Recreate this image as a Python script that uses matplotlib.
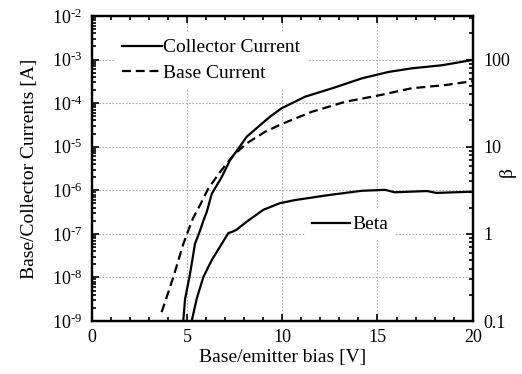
import matplotlib
matplotlib.use('Agg')
import matplotlib.pyplot as plt
from matplotlib.ticker import LogLocator, NullFormatter, FixedLocator, MultipleLocator

plt.rcParams['font.family'] = ['Liberation Serif', 'DejaVu Serif']
plt.rcParams['mathtext.fontset'] = 'custom'
plt.rcParams['mathtext.rm'] = 'Liberation Serif'
plt.rcParams['mathtext.it'] = 'Liberation Serif:italic'
plt.rcParams['font.size'] = 14

# collector current vs base/emitter bias
v_ic = [4.80, 4.90, 5.16, 5.42, 5.69, 5.86, 6.04, 6.30, 6.82, 7.26, 7.70,
        8.14, 8.83, 9.36, 9.96, 11.19, 12.77, 14.17, 15.58, 16.8, 18.38, 20.0]
ic = [9.3e-10, 3.2e-9, 1.2e-8, 5.9e-8, 1.2e-7, 2.0e-7, 3.2e-7, 8.3e-7, 2.0e-6,
      4.9e-6, 9.1e-6, 1.7e-5, 3.1e-5, 4.9e-5, 7.6e-5, 1.4e-4, 2.3e-4, 3.7e-4,
      5.2e-4, 6.3e-4, 7.4e-4, 9.8e-4]

# base current
v_ib = [3.67, 4.28, 4.81, 5.30, 5.70, 6.12, 6.73, 7.43, 8.14, 9.10, 9.96,
        11.54, 13.29, 15.05, 16.8, 18.56, 20.0]
ib = [1.6e-9, 1.0e-8, 5.9e-8, 2.2e-7, 4.7e-7, 1.1e-6, 2.6e-6, 6.3e-6, 1.2e-5,
      2.2e-5, 3.3e-5, 6.3e-5, 1.07e-4, 1.5e-4, 2.2e-4, 2.6e-4, 3.2e-4]

# current gain
v_beta = [5.25, 5.51, 5.86, 6.30, 6.73, 7.17, 7.40, 7.61, 8.14, 9.01, 9.88,
          10.66, 12.4, 14.17, 15.4, 15.9, 17.6, 18.1, 20.0]
beta = [0.10, 0.18, 0.32, 0.50, 0.71, 1.02, 1.06, 1.12, 1.38, 1.89, 2.25,
        2.44, 2.78, 3.12, 3.2, 3.0, 3.1, 2.95, 3.05]

left_ticks = [1e-9, 1e-8, 1e-7, 1e-6, 1e-5, 1e-4, 1e-3, 1e-2]
left_labels = [r'$\mathregular{10^{\text{-}%d}}$' % n for n in range(9, 1, -1)]
right_ticks = [0.1, 1, 10, 100]
right_labels = ['0.1', '1', '10', '100']

fig = plt.figure(figsize=(5.22, 3.74), dpi=100)
ax = fig.add_axes([0.1757, 0.1417, 0.7299, 0.8155])
ax2 = ax.twinx()

ax.plot(v_ic, ic, color='black', lw=1.6, label='Collector Current')
ax.plot(v_ib, ib, color='black', lw=1.6, dashes=(4, 2.2), label='Base Current')
ax2.plot(v_beta, beta, color='black', lw=1.6, label='Beta')

ax.set_yscale('log')
ax.set_ylim(1e-9, 1e-2)
ax.set_xlim(0, 20)
ax2.set_yscale('log')
ax2.set_ylim(0.1, 10 ** 2.5)

ax.xaxis.set_major_locator(MultipleLocator(5))
ax.xaxis.set_minor_locator(MultipleLocator(1))
ax.yaxis.set_major_locator(FixedLocator(left_ticks))
ax.set_yticklabels(left_labels)
ax.yaxis.set_minor_locator(LogLocator(base=10, subs=range(2, 10), numticks=20))
ax.yaxis.set_minor_formatter(NullFormatter())
ax2.yaxis.set_major_locator(FixedLocator(right_ticks))
ax2.set_yticklabels(right_labels)
ax2.yaxis.set_minor_locator(LogLocator(base=10, subs=range(2, 10), numticks=20))
ax2.yaxis.set_minor_formatter(NullFormatter())

ax.grid(True, which='major', color='#aaaaaa', lw=0.8, ls=(0, (1.5, 1.5)))
ax.tick_params(which='both', direction='in', top=True, width=1.2, labelsize=13)
ax.tick_params(which='major', length=5, pad=6)
ax.tick_params(which='minor', length=3)
ax.tick_params(axis='y', which='major', pad=7)
ax2.tick_params(which='both', direction='in', width=1.2, labelsize=13)
ax2.tick_params(which='major', length=5, pad=8)
ax2.tick_params(which='minor', length=3)
for a in (ax, ax2):
    for s in a.spines.values():
        s.set_linewidth(1.6)

ax.set_xlabel('Base/emitter bias [V]', labelpad=2)
ax.set_ylabel('Base/Collector Currents [A]', labelpad=10)
ax2.set_ylabel('β')
ax2.yaxis.set_label_coords(1.069, 0.49)

h1, l1 = ax.get_legend_handles_labels()
h2, l2 = ax2.get_legend_handles_labels()
leg1 = ax2.legend(h1, l1, loc='upper left', bbox_to_anchor=(0.061, 0.948),
                  borderaxespad=0, borderpad=0.36, handlelength=2.05,
                  handletextpad=0.05, labelspacing=0.4, frameon=True,
                  fancybox=False, framealpha=1, edgecolor='none', facecolor='white')
ax2.add_artist(leg1)
ax2.legend(h2, l2, loc='upper left', bbox_to_anchor=(0.559, 0.368),
           borderaxespad=0, borderpad=0.36, handlelength=1.96, handletextpad=0.15,
           frameon=True, fancybox=False, framealpha=1, edgecolor='none',
           facecolor='white')

fig.savefig('out.png', dpi=100)
